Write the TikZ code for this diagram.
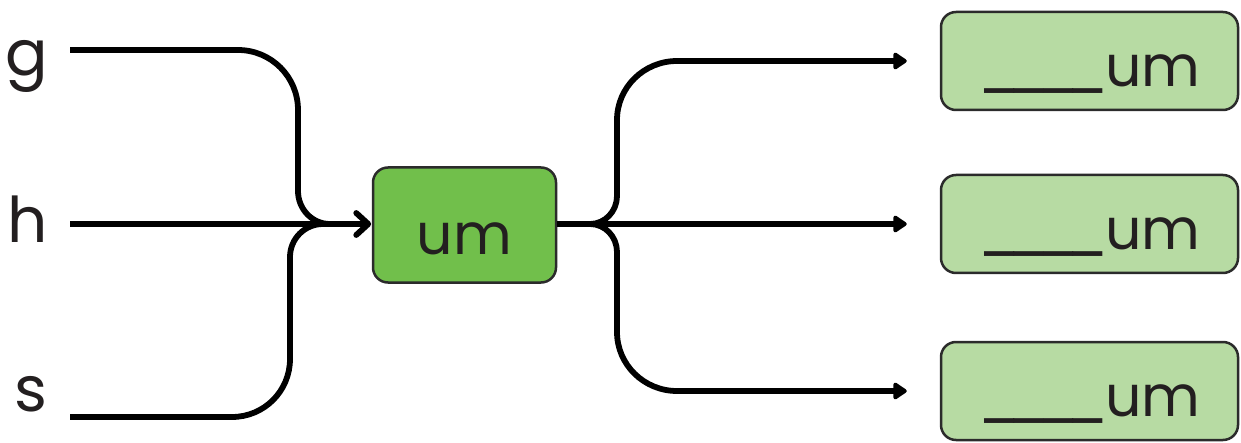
\documentclass[tikz,border=0pt]{standalone}
\usepackage{fontspec}
\setmainfont{Poppins}
\usetikzlibrary{arrows.meta,calc}
\definecolor{midgreen}{HTML}{71BF4B}
\definecolor{lightgreen}{HTML}{B7DBA3}
\definecolor{ink}{HTML}{231F20}
\definecolor{edge}{HTML}{2B2B2B}
\newcommand\ublankrun{\_\kern-0.22em\_\kern-0.22em\_\kern-0.22em\_\kern-0.05em}
\begin{document}
\begin{tikzpicture}[x=1pt,y=1pt,
  lbltext/.style={font=\fontsize{63}{75}\selectfont, text=ink},
  boxtext/.style={font=\fontsize{57}{68}\selectfont, text=ink},
  lbl/.style={lbltext, inner sep=0pt, anchor=base east},
  centerbox/.style={boxtext, draw=edge, line width=2.5pt, fill=midgreen, rounded corners=15pt,
    minimum width=183pt, minimum height=115pt, text height=60pt, text depth=0pt, inner sep=0pt},
  outbox/.style={boxtext, draw=edge, line width=2.5pt, fill=lightgreen, rounded corners=15pt,
    minimum width=297pt, minimum height=98pt, text height=51pt, text depth=0pt, inner sep=0pt},
  conn/.style={line width=5.8pt, black},
  chevron/.style={conn, line cap=round, line join=round},
  outarrow/.style={conn, -{Triangle[length=15pt,width=19pt,round]}, shorten >=33pt}
]
\useasboundingbox (0,0) rectangle (1241,442);
% labels
\node[lbl] (g) at (48,366) {g};
\node[lbl] (h) at (48,199) {h};
\node[lbl] (s) at (48,31) {s};
% start points of connectors
\coordinate (gs) at (70,392);
\coordinate (hs) at (70,218);
\coordinate (ss) at (70,25);
\coordinate (j1) at (340,218);
\coordinate (j2) at (590,218);
% center node
\node[centerbox] (c) at (464.5,217) {um};
% output boxes
\node[outbox] (r1) at (1089.5,381) {\ublankrun um};
\node[outbox] (r2) at (1089.5,218) {\ublankrun um};
\node[outbox] (r3) at (1089.5,51) {\ublankrun um};
% inputs
\draw[conn] (gs) -- (238,392) to[out=0,in=90] (298,332) -- (298,251) to[out=-90,in=180] (330,218) -- (j1);
\draw[conn] (ss) -- (232,25) to[out=0,in=-90] (290,83) -- (290,185) to[out=90,in=180] (323,218) -- (j1);
\coordinate (tip) at ($(c.west |- hs)+(-3.5,0)$);
\coordinate (cout) at (c.east |- hs);
\draw[conn] (hs) -- (tip);
\draw[chevron] ($(tip)+(-12,11)$) -- (tip) -- ($(tip)+(-12,-11)$);
% outputs
\draw[outarrow] (cout) -- (j2) to[out=0,in=-90] (617,246) -- (617,322) to[out=90,in=180] (677,381) -- (r1.west);
\draw[outarrow] (cout) -- (r2.west);
\draw[outarrow] (cout) -- (j2) to[out=0,in=90] (617,190) -- (617,110) to[out=-90,in=180] (677,51) -- (r3.west);
\end{tikzpicture}
\end{document}
